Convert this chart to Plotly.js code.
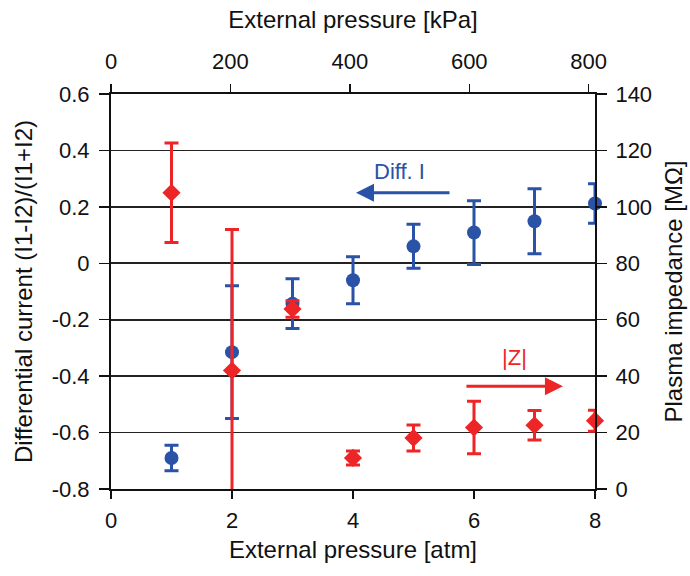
<!DOCTYPE html>
<html>
<head>
<meta charset="utf-8">
<script src="https://cdn.plot.ly/plotly-3.0.1.min.js"></script>
<style>html,body{margin:0;padding:0;background:#fff;}#chart{width:690px;height:576px;}</style>
</head>
<body>
<div id="chart"></div>
<script>
// Data
const pressureAtm = [1, 2, 3, 4, 5, 6, 7, 8];
const diffI = [-0.69, -0.315, -0.143, -0.06, 0.06, 0.109, 0.149, 0.212];
const diffIErr = [0.045, 0.235, 0.088, 0.083, 0.078, 0.113, 0.115, 0.07];
const impedance = [105, 42, 63.8, 11.0, 18.1, 21.8, 22.6, 24.2];
const impedanceErr = [17.6, 50, 2.9, 2.5, 4.6, 9.3, 5.2, 3.7];
const KPA_PER_ATM = 101.325;
const pressureKPa = pressureAtm.map(p => p * KPA_PER_ATM);

const xTickVals = [0, 2, 4, 6, 8];
const xTickText = ['0', '2', '4', '6', '8'];
const kpaTickVals = [0, 200, 400, 600, 800];
const kpaTickText = ['0', '200', '400', '600', '800'];
const leftTickVals = [-0.8, -0.6, -0.4, -0.2, 0, 0.2, 0.4, 0.6];
const leftTickText = ['-0.8', '-0.6', '-0.4', '-0.2', '0', '0.2', '0.4', '0.6'];
const rightTickVals = [0, 20, 40, 60, 80, 100, 120, 140];
const rightTickText = ['0', '20', '40', '60', '80', '100', '120', '140'];

const BLUE = '#2a52a6';
const RED = '#ee2526';
const FONT = 'Liberation Sans, Arial, sans-serif';
const TITLE_FONT = {family: FONT, size: 24, color: '#111'};

const traces = [
  {
    x: pressureAtm, y: diffI, xaxis: 'x', yaxis: 'y', type: 'scatter', mode: 'markers',
    cliponaxis: false,
    marker: {symbol: 'circle', size: 14, color: BLUE},
    error_y: {type: 'data', array: diffIErr, visible: true, color: BLUE, thickness: 3, width: 7},
    showlegend: false, hoverinfo: 'skip'
  },
  {
    x: pressureAtm, y: impedance, xaxis: 'x', yaxis: 'y2', type: 'scatter', mode: 'markers',
    cliponaxis: false,
    marker: {symbol: 'diamond', size: 14, color: RED},
    error_y: {type: 'data', array: impedanceErr, visible: true, color: RED, thickness: 3, width: 7},
    showlegend: false, hoverinfo: 'skip'
  },
  {
    x: pressureKPa, y: diffI, xaxis: 'x2', yaxis: 'y', type: 'scatter', mode: 'markers',
    marker: {size: 1, opacity: 0}, showlegend: false, hoverinfo: 'skip'
  }
];

const axisCommon = {
  showline: true, linecolor: '#111', linewidth: 2,
  ticks: 'outside', ticklen: 10, tickwidth: 1.5, tickcolor: '#111',
  zeroline: false, showgrid: false,
  tickfont: {family: FONT, size: 22, color: '#111'},
  fixedrange: true
};

const layout = {
  width: 690, height: 576,
  margin: {l: 111, r: 94.5, t: 94, b: 86.5, pad: 0},
  paper_bgcolor: '#fff', plot_bgcolor: '#fff',
  font: {family: FONT, size: 20, color: '#111'},
  showlegend: false,
  xaxis: Object.assign({}, axisCommon, {
    range: [0, 8], tickvals: xTickVals, ticktext: xTickText, ticklen: 8,
    ticklabelstandoff: 3,
    title: {text: 'External pressure [atm]', font: TITLE_FONT, standoff: 9}
  }),
  xaxis2: Object.assign({}, axisCommon, {
    range: [0, 8 * KPA_PER_ATM], tickvals: kpaTickVals, ticktext: kpaTickText, ticklen: 8,
    overlaying: 'x', side: 'top', anchor: 'y',
    ticklabelstandoff: 6,
    title: {text: 'External pressure [kPa]', font: TITLE_FONT, standoff: 14}
  }),
  yaxis: Object.assign({}, axisCommon, {
    range: [-0.8, 0.6], tickvals: leftTickVals, ticktext: leftTickText,
    showgrid: true, gridcolor: '#222', gridwidth: 1.8,
    ticklabelstandoff: 5,
    title: {text: 'Differential current (I1-I2)/(I1+I2)', font: TITLE_FONT, standoff: 12}
  }),
  yaxis2: Object.assign({}, axisCommon, {
    range: [0, 140], tickvals: rightTickVals, ticktext: rightTickText,
    overlaying: 'y', side: 'right', anchor: 'x',
    ticklabelstandoff: 4,
    title: {text: 'Plasma impedance [MΩ]', font: TITLE_FONT, standoff: 14}
  }),
  annotations: [
    {xref: 'x', yref: 'y', x: 4.77, y: 0.325, text: 'Diff. I', showarrow: false,
     font: {family: FONT, size: 22, color: BLUE}},
    {xref: 'x', yref: 'y', axref: 'x', ayref: 'y', x: 4.05, y: 0.25, ax: 5.62, ay: 0.25,
     text: '', showarrow: true, arrowhead: 2, arrowsize: 1.2, arrowwidth: 3, arrowcolor: BLUE},
    {xref: 'x', yref: 'y2', x: 6.67, y: 46.5, text: '|Z|', showarrow: false,
     font: {family: FONT, size: 22, color: RED}},
    {xref: 'x', yref: 'y2', axref: 'x', ayref: 'y2', x: 7.47, y: 36.4, ax: 5.85, ay: 36.4,
     text: '', showarrow: true, arrowhead: 2, arrowsize: 1.2, arrowwidth: 3, arrowcolor: RED}
  ]
};

Plotly.newPlot('chart', traces, layout, {staticPlot: true, displayModeBar: false});
</script>
</body>
</html>
